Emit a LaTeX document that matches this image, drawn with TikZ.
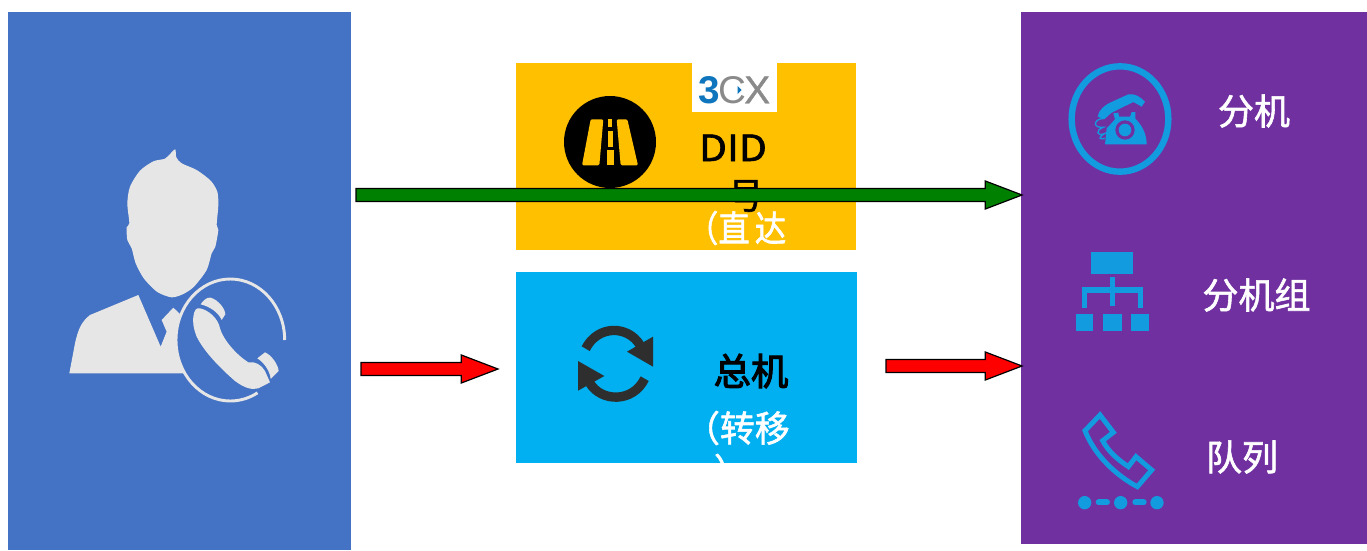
\documentclass[tikz,border=0pt]{standalone}
\usepackage{fontspec}
\setmainfont[FakeBold=1.6]{Noto Sans CJK SC}
\newfontfamily\boldcjk[FakeBold=2.8]{Noto Sans CJK SC}
\newfontfamily\logofont{Liberation Sans}
\newfontfamily\logoheavy[FakeBold=1]{Liberation Sans}
\usetikzlibrary{calc}
\definecolor{userblue}{HTML}{4472C4}
\definecolor{amber}{HTML}{FFC000}
\definecolor{cyanbox}{HTML}{00B0F0}
\definecolor{purplebox}{HTML}{7030A0}
\definecolor{icongrey}{HTML}{E7E6E6}
\definecolor{iconblue}{HTML}{129BDF}
\definecolor{syncgrey}{HTML}{2E2E2E}
\definecolor{logoblue}{HTML}{0F75BC}
\definecolor{logogrey}{HTML}{8A8A8A}
\definecolor{arrowgreen}{HTML}{008000}
\newcommand{\blockarrow}[3]{%
  \draw[black,line width=0.9pt,line join=miter,fill=#3]
    let \p1=(#1),\p2=(#2) in
    ({\x1},{\y1+4.9pt}) -- ({\x2-27.5pt},{\y1+4.9pt}) -- ({\x2-27.5pt},{\y1+10.5pt})
    -- ({\x2},{\y1}) -- ({\x2-27.5pt},{\y1-10.5pt}) -- ({\x2-27.5pt},{\y1-4.9pt})
    -- ({\x1},{\y1-4.9pt}) -- cycle;}
\tikzset{
  panel/.style={rectangle,inner sep=0pt,outer sep=0pt,draw=none},
  label/.style={inner sep=0pt,outer sep=0pt,font=\fontsize{27}{30}\selectfont},
  zoomed/.style={x=.25pt,y=-.25pt}
}
\begin{document}
\begin{tikzpicture}[x=.75pt,y=-.75pt]
\useasboundingbox (0,0) rectangle (1367,550);
\fill[white] (0,0) rectangle (1367,550);
% panels
\node[panel,fill=userblue,minimum width=343*.75pt,minimum height=538*.75pt] (user) at (179.5,281) {};
\node[panel,fill=amber,minimum width=340*.75pt,minimum height=187*.75pt] (did) at (686,156.5) {};
\node[panel,fill=cyanbox,minimum width=341*.75pt,minimum height=191*.75pt] (main) at (686.5,367.5) {};
\node[panel,fill=purplebox,minimum width=346*.75pt,minimum height=532*.75pt] (ext) at (1194,278) {};
\node[panel,fill=white,minimum width=85*.75pt,minimum height=49*.75pt] (logobox) at (734.5,87.5) {};
% caller icon
\begin{scope}[shift={(50,140)},zoomed]
  \fill[icongrey] plot[smooth cycle,tension=.45] coordinates {(345,56)(362,40)(376,28)(379,52)(395,70)(440,90)(482,122)(502,155)(505,195)(500,255)(505,270)(496,320)(485,340)(470,390)(432,440)(400,462)(365,472)(322,456)(282,416)(257,370)(245,325)(232,300)(230,262)(238,250)(232,190)(240,140)(270,92)(310,64)};
  \fill[icongrey] (58,700) -- (75,610) .. controls (85,565) and (95,545) .. (120,525) -- (265,465) -- (332,620) -- (350,575) -- (335,540) -- (370,503) -- (430,560) -- (430,700) -- cycle;
  \fill[userblue] (541,597) ellipse [x radius=163,y radius=183];
  \draw[icongrey,line width=2.2pt] (704,600) arc [start angle=0,end angle=-300,x radius=163,y radius=183];
\end{scope}
\begin{scope}[shift={(170,275)},zoomed]
  \fill[icongrey] (70,125) .. controls (72,105) and (80,97) .. (90,100) .. controls (115,105) and (145,130) .. (150,160) .. controls (160,195) and (200,240) .. (235,262) .. controls (255,258) and (275,270) .. (285,288) -- (300,322) -- (265,340) .. controls (245,345) and (225,340) .. (195,318) .. controls (140,270) and (100,225) .. (80,185) .. controls (70,160) and (68,140) .. (70,125) -- cycle;
  \fill[icongrey] (92,88) .. controls (100,75) and (112,66) .. (122,68) .. controls (145,75) and (165,100) .. (166,118) -- (155,135) .. controls (145,112) and (120,95) .. (92,88) -- cycle;
  \fill[icongrey] (262,250) -- (285,232) .. controls (305,240) and (325,270) .. (326,288) -- (302,312) .. controls (300,290) and (285,265) .. (262,250) -- cycle;
\end{scope}
% road icon
\node[panel,fill=black,circle,minimum size=92*.75pt] (road) at (610,142) {};
\begin{scope}[shift={(560,90)},zoomed]
  \fill[amber,rounded corners=1pt] (98,88) -- (130,88) -- (118,226) -- (66,226) -- (92,88) -- cycle;
  \fill[amber,rounded corners=1pt] (170,88) -- (202,88) -- (234,226) -- (182,226) -- cycle;
  \fill[amber] (144,88) rectangle (157,112);
  \fill[amber] (143,122) rectangle (159,170);
  \fill[amber] (140,181) rectangle (161,225);
\end{scope}
% sync icon
\begin{scope}[shift={(516,300)},zoomed]
  \draw[syncgrey,line width=7pt] (209,146) .. controls (245,75) and (335,75) .. (372,135);
  \fill[syncgrey] (411,110) -- (411,200) -- (333,155) -- cycle;
  \draw[syncgrey,line width=7pt] (386,236) .. controls (350,310) and (255,305) .. (222,250);
  \fill[syncgrey] (186,183) -- (186,272) -- (265,228) -- cycle;
\end{scope}
% telephone icon
\begin{scope}[shift={(1050,50)},zoomed]
  \draw[iconblue,line width=4.8pt] (210,207) ellipse [x radius=145,y radius=158];
  \fill[iconblue] (143,200) .. controls (145,180) and (165,165) .. (180,158) -- (235,133) .. controls (255,130) and (270,140) .. (285,155) -- (275,170) -- (250,156) -- (185,188) .. controls (175,195) and (170,205) .. (160,207) -- cycle;
  \fill[iconblue] (165,283) -- (170,235) -- (195,208) -- (190,190) -- (205,188) -- (207,200) -- (240,200) -- (245,186) -- (256,186) -- (256,206) .. controls (275,225) and (290,250) .. (290,283) -- cycle;
  \fill[purplebox] (225,240) circle [radius=29];
  \fill[iconblue] (225,240) circle [radius=19];
  \draw[iconblue,line width=1pt] (165,205) .. controls (130,205) and (125,235) .. (160,232) .. controls (135,240) and (140,262) .. (165,250) .. controls (145,262) and (145,270) .. (165,265);
\end{scope}
% organisation icon
\begin{scope}[shift={(1050,240)},zoomed]
  \fill[iconblue] (124,36) rectangle (250,102);
  \fill[iconblue] (180,112) rectangle (195,197);
  \fill[iconblue] (95,142) rectangle (280,158);
  \fill[iconblue] (95,142) rectangle (110,203);
  \fill[iconblue] (265,142) rectangle (280,203);
  \fill[iconblue] (77,222) rectangle (130,273);
  \fill[iconblue] (160,222) rectangle (215,273);
  \fill[iconblue] (244,222) rectangle (297,273);
% queue icon
  \draw[iconblue,line width=3.7pt,line join=miter] (150,525) -- (190,577) -- (158,602) .. controls (175,635) and (205,660) .. (235,680) -- (258,650) -- (305,690) -- (262,740) .. controls (205,710) and (135,650) .. (105,572) -- cycle;
  \fill[iconblue] (104,788) circle [radius=20];
  \fill[iconblue] (212,788) circle [radius=20];
  \fill[iconblue] (321,788) circle [radius=20];
  \draw[iconblue,line width=4.5pt,line cap=round] (146,787) -- (171,787);
  \draw[iconblue,line width=4.5pt,line cap=round] (256,787) -- (281,787);
\end{scope}
% texts
\node[inner sep=0pt,font=\logofont\fontsize{29}{30}\selectfont] (logo) at (734.5,90) {\textcolor{logoblue}{\bfseries 3}\kern-1.5pt\textcolor{logogrey}{C\kern-1.5pt{\logoheavy X}}};
\fill[logoblue] (737.5,86) -- (741.5,90) -- (737.5,94) -- cycle;
\node[label,text=black,anchor=base west,xscale=1.13] (didtext) at (699,161) {DID};
\node[label,text=black] (hao) at (746,196) {号};
\node[label,text=white,anchor=west,xscale=.87] (zhida) at (687,228) {（直\kern4.5pt 达};
\node[label,text=black,font=\boldcjk\fontsize{28}{30}\selectfont] (zongji) at (751,371) {总机};
\begin{scope}
  \clip (516,272) rectangle (857,463);
  \node[label,text=white,anchor=west,xscale=.97] (zhuanyi) at (685,428) {（转移};
  \node[label,text=white] (paren) at (732,471) {）};
\end{scope}
\node[label,text=white] (fenji) at (1254,111) {分机};
\node[label,text=white] (fenjizu) at (1256.5,295) {分机组};
\node[label,text=white] (duilie) at (1242,457) {队列};
% arrows
\coordinate (gs) at ($(user.east)+(5,-86)$);
\coordinate (ge) at ($(ext.west)+(1,-83)$);
\coordinate (rs) at ($(user.east)+(10,88)$);
\coordinate (re) at ($(main.west)+(-18,1.5)$);
\coordinate (ts) at ($(main.east)+(29,-1.5)$);
\coordinate (te) at ($(ext.west)+(1,88)$);
\blockarrow{gs}{ge}{arrowgreen}
\blockarrow{rs}{re}{red}
\blockarrow{ts}{te}{red}
\end{tikzpicture}
\end{document}
